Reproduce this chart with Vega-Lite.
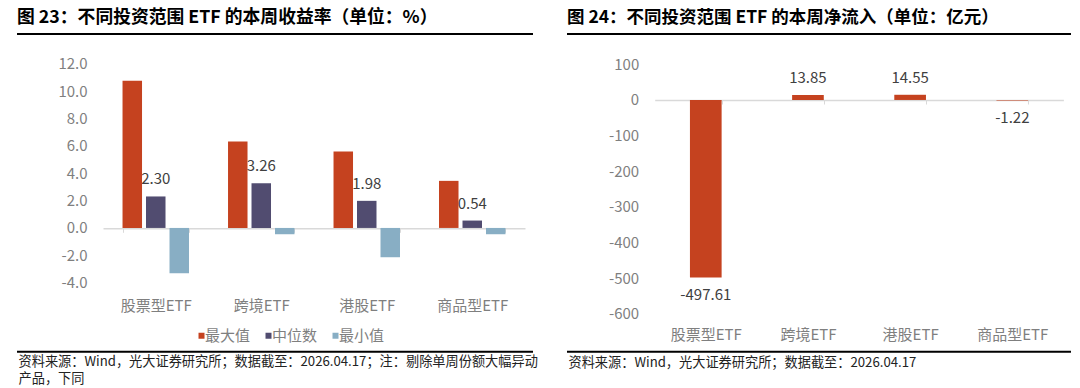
{
  "$schema": "https://vega.github.io/schema/vega-lite/v6.json",
  "padding": {"left": 16, "top": 8, "right": 0, "bottom": 0},
  "background": "#ffffff",
  "config": {
    "font": "Noto Sans CJK SC",
    "locale": {"number": {"decimal": ".", "thousands": ",", "grouping": [3], "currency": ["", ""], "minus": "-"}},
    "view": {"stroke": null}
  },
  "hconcat": [
    {
      "width": 516,
      "height": 317.7,
      "view": {"stroke": "#000000", "strokeWidth": 2, "strokeDash": [516, 317.7]},
      "title": {"text": "图 23：不同投资范围 ETF 的本周收益率（单位：%）", "anchor": "start", "frame": "group", "offset": 7, "fontSize": 17.8, "fontWeight": "bold", "color": "#000000"},
      "data": {"values": [
        {"type": "股票型ETF", "series": "最大值", "value": 10.76},
        {"type": "股票型ETF", "series": "中位数", "value": 2.30},
        {"type": "股票型ETF", "series": "最小值", "value": -3.31},
        {"type": "跨境ETF", "series": "最大值", "value": 6.31},
        {"type": "跨境ETF", "series": "中位数", "value": 3.26},
        {"type": "跨境ETF", "series": "最小值", "value": -0.46},
        {"type": "港股ETF", "series": "最大值", "value": 5.58},
        {"type": "港股ETF", "series": "中位数", "value": 1.98},
        {"type": "港股ETF", "series": "最小值", "value": -2.14},
        {"type": "商品型ETF", "series": "最大值", "value": 3.44},
        {"type": "商品型ETF", "series": "中位数", "value": 0.54},
        {"type": "商品型ETF", "series": "最小值", "value": -0.46}
      ]},
      "layer": [
        {
          "mark": {"type": "bar"},
          "encoding": {
            "x": {"field": "type", "type": "nominal",
              "scale": {"domain": ["股票型ETF", "跨境ETF", "港股ETF", "商品型ETF"], "range": [86, 508], "paddingInner": 0.37, "paddingOuter": 0.185},
              "axis": {"orient": "bottom", "offset": -123.4, "domainColor": "#d9d9d9", "domainWidth": 1.5, "ticks": true, "tickBand": "extent", "tickColor": "#d9d9d9", "tickSize": 4, "labelPadding": 66.4, "labelAngle": 0, "labelFontSize": 15, "labelColor": "#7f7f7f", "grid": false,
                "title": ["资料来源：Wind，光大证券研究所；数据截至：2026.04.17；注：剔除单周份额大幅异动", "产品，下同"],
                "titleX": 1, "titleY": 127.6, "titleAnchor": "start", "titleAlign": "left", "titleBaseline": "top", "titleFontSize": 13.2, "titleFontWeight": "normal", "titleColor": "#222222", "titleLineHeight": 17}},
            "xOffset": {"field": "series", "type": "nominal", "scale": {"domain": ["最大值", "中位数", "最小值"], "paddingInner": 0.17, "paddingOuter": 0}},
            "y": {"field": "value", "type": "quantitative",
              "scale": {"domain": [-4, 12], "range": [248.7, 29.7], "nice": false},
              "axis": {"orient": "left", "offset": -86, "domain": false, "ticks": false, "tickSize": 0, "grid": false, "labelPadding": 16, "labelOverlap": false, "tickCount": 20, "values": [12, 10, 8, 6, 4, 2, 0, -2, -4], "format": ".1f", "labelFontSize": 15, "labelColor": "#7f7f7f", "title": null}},
            "color": {"field": "series", "type": "nominal",
              "scale": {"domain": ["最大值", "中位数", "最小值"], "range": ["#C5421F", "#514C70", "#88AEC4"]},
              "legend": {"orient": "none", "legendX": 177, "legendY": 294, "direction": "horizontal", "title": null, "symbolType": "square", "symbolSize": 36, "symbolStrokeWidth": 0, "labelFontSize": 15, "labelColor": "#7f7f7f", "labelOffset": -4, "columnPadding": 10}}
          }
        },
        {
          "transform": [{"filter": "datum.series === '中位数'"}],
          "mark": {"type": "text", "baseline": "alphabetic", "dy": -12, "fontSize": 15, "color": "#404040"},
          "encoding": {
            "x": {"field": "type", "type": "nominal"},
            "xOffset": {"field": "series", "type": "nominal"},
            "y": {"field": "value", "type": "quantitative"},
            "text": {"field": "value", "type": "quantitative", "format": ".2f"}
          }
        }
      ]
    },
    {
      "width": 504,
      "height": 317.7,
      "view": {"stroke": "#000000", "strokeWidth": 2, "strokeDash": [504, 317.7]},
      "title": {"text": "图 24：不同投资范围 ETF 的本周净流入（单位：亿元）", "anchor": "start", "frame": "group", "offset": 7, "fontSize": 17.5, "fontWeight": "bold", "color": "#000000"},
      "data": {"values": [
        {"type": "股票型ETF", "value": -497.61},
        {"type": "跨境ETF", "value": 13.85},
        {"type": "港股ETF", "value": 14.55},
        {"type": "商品型ETF", "value": -1.22}
      ]},
      "layer": [
        {
          "mark": {"type": "bar", "color": "#C5421F"},
          "encoding": {
            "x": {"field": "type", "type": "nominal",
              "scale": {"domain": ["股票型ETF", "跨境ETF", "港股ETF", "商品型ETF"], "range": [87.7, 496.4], "paddingInner": 0.69, "paddingOuter": 0.345},
              "axis": {"orient": "bottom", "offset": -251.7, "domainColor": "#d9d9d9", "domainWidth": 1.5, "ticks": true, "tickBand": "extent", "tickColor": "#d9d9d9", "tickSize": 4, "labelPadding": 223.7, "labelAngle": 0, "labelFontSize": 15, "labelColor": "#7f7f7f", "grid": false,
                "title": "资料来源：Wind，光大证券研究所；数据截至：2026.04.17",
                "titleX": 1, "titleY": 256.2, "titleAnchor": "start", "titleAlign": "left", "titleBaseline": "top", "titleFontSize": 13.2, "titleFontWeight": "normal", "titleColor": "#222222"}},
            "y": {"field": "value", "type": "quantitative",
              "scale": {"domain": [-600, 100], "range": [280, 30.3], "nice": false},
              "axis": {"orient": "left", "offset": -87.7, "domain": false, "ticks": false, "tickSize": 0, "grid": false, "labelPadding": 16, "labelOverlap": false, "tickCount": 20, "values": [100, 0, -100, -200, -300, -400, -500, -600], "format": "d", "labelFontSize": 15, "labelColor": "#7f7f7f", "title": null}}
          }
        },
        {
          "transform": [{"filter": "datum.value >= 0"}],
          "mark": {"type": "text", "baseline": "alphabetic", "dy": -12, "fontSize": 15, "color": "#404040"},
          "encoding": {
            "x": {"field": "type", "type": "nominal"},
            "y": {"field": "value", "type": "quantitative"},
            "text": {"field": "value", "type": "quantitative", "format": ".2f"}
          }
        },
        {
          "transform": [{"filter": "datum.value < 0"}],
          "mark": {"type": "text", "baseline": "top", "dy": 11, "fontSize": 15, "color": "#404040"},
          "encoding": {
            "x": {"field": "type", "type": "nominal"},
            "y": {"field": "value", "type": "quantitative"},
            "text": {"field": "value", "type": "quantitative", "format": ".2f"}
          }
        }
      ]
    }
  ],
  "spacing": 34,
  "bounds": "flush"
}
